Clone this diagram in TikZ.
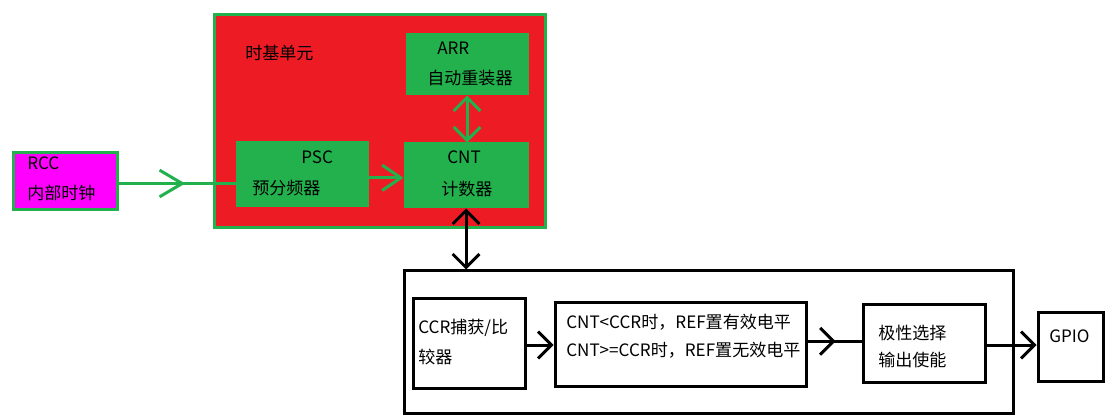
\documentclass[tikz,border=0pt]{standalone}
\usepackage{fontspec}
\setmainfont{Noto Sans CJK SC}
\usetikzlibrary{arrows.meta,fit,decorations.markings}
\definecolor{pgreen}{HTML}{22B14C}
\definecolor{pred}{HTML}{ED1C24}
\definecolor{pmag}{HTML}{FF00FF}
\tikzset{
  chev/.tip={Straight Barb[length=10pt,width=20pt]},
  chevlong/.tip={Straight Barb[length=14pt,width=19pt]},
  chevbig/.tip={Straight Barb[length=17pt,width=20pt]},
  gline/.style={draw=pgreen, line width=2.25pt},
  bline/.style={draw=black, line width=2.25pt},
  box/.style={inner sep=0pt, line width=2.25pt},
  gbox/.style={box, draw=pgreen, fill=pgreen},
  wbox/.style={box, draw=black, fill=white},
  txt/.style={inner sep=0pt, anchor=west, font=\fontsize{12.8pt}{15pt}\selectfont},
  midarrow/.style 2 args={postaction={decorate}, decoration={markings, mark=at position #1 with {\arrow[line width=2.25pt]{#2}}}}
}
\begin{document}
\begin{tikzpicture}[x=0.75pt,y=-0.75pt]
\useasboundingbox (0,0) rectangle (1106,420);
% time base unit
\node[box, draw=pgreen, fill=pred, fit={(214,15)(545,228)}] (tb) {};
\node[gbox, fit={(407,35)(527,94)}] (arr) {};
\node[gbox, fit={(237,143)(367,206)}] (psc) {};
\node[gbox, fit={(405,144)(527,207)}] (cnt) {};
% RCC
\node[box, draw=pgreen, fill=pmag, fit={(13,153)(117,210)}] (rcc) {};
% output compare
\node[wbox, fit={(404,271)(1013,413)}] (oc) {};
\node[wbox, fit={(413,298)(525,388)}] (ccr) {};
\node[wbox, fit={(555,302)(806,386)}] (cond) {};
\node[wbox, fit={(863,304)(985,382)}] (pol) {};
\node[wbox, fit={(1038,312)(1103,381)}] (gpio) {};
% texts
\node[txt] (t-rcc) at (27,163) {RCC};
\node[txt] (t-rcc2) at (27,193) {内部时钟};
\node[txt] (t-tb) at (245,53) {时基单元};
\node[txt] (t-arr) at (437,48) {ARR};
\node[txt] (t-arr2) at (427,78) {自动重装器};
\node[txt] (t-psc) at (301,157) {PSC};
\node[txt] (t-psc2) at (252,188) {预分频器};
\node[txt] (t-cnt) at (447,157) {CNT};
\node[txt] (t-cnt2) at (441,189) {计数器};
\node[txt] (t-ccr) at (418,328) {CCR捕获/比};
\node[txt] (t-ccr2) at (418,357) {较器};
\node[txt] (t-c1) at (566,322) {CNT<CCR时，REF置有效电平};
\node[txt] (t-c2) at (566,350) {CNT>=CCR时，REF置无效电平};
\node[txt] (t-pol) at (878,333) {极性选择};
\node[txt] (t-pol2) at (878,360) {输出使能};
\node[txt] (t-gpio) at (1049,336) {GPIO};
% connectors
\draw[gline, midarrow={0.57}{chevbig}] ([yshift=-1.5pt]rcc.east) -- ([yshift=-1.5pt]rcc.east -| psc.west);
\draw[gline, -{chevlong}] ([yshift=-2.5pt]psc.east) -- ([yshift=-2.5pt]psc.east -| cnt.west);
\draw[gline, {chev}-{chev}] (arr.south) -- (arr.south |- cnt.north);
\draw[bline, {chev}-{chev}] (cnt.south) -- (cnt.south |- oc.north);
\draw[bline, -{chev}] ([yshift=-1.5pt]ccr.east) -- ([yshift=-1.5pt]ccr.east -| cond.west);
\draw[bline, midarrow={0.52}{chev}] ([yshift=2pt]cond.east) -- ([yshift=2pt]cond.east -| pol.west);
\draw[bline, -{chev}] ([yshift=-1.5pt]pol.east) -- ([yshift=-1.5pt]pol.east -| gpio.west);
\end{tikzpicture}
\end{document}
